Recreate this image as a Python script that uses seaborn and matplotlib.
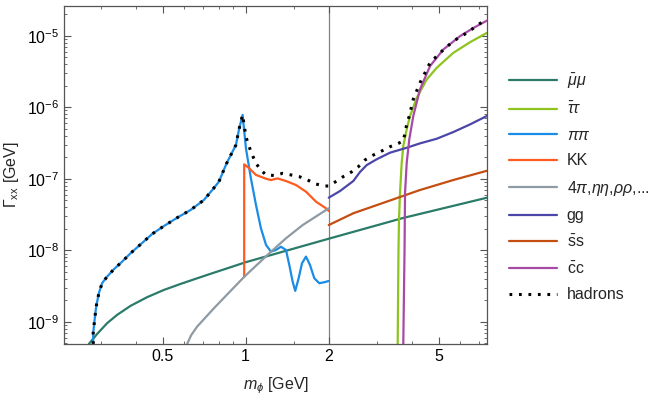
import numpy as np
import pandas as pd
import matplotlib
matplotlib.use("Agg")
import matplotlib.pyplot as plt
import matplotlib.ticker as mticker
import seaborn as sns

# values (m in GeV, Gamma in GeV)
mumu_m = [0.2706, 0.290, 0.315, 0.3425, 0.383, 0.440, 0.506, 0.581, 0.668, 0.768, 0.882, 1.0, 2.0, 3.71, 7.49]
mumu_g = [4.9e-10, 6.78e-10, 9.56e-10, 1.25e-9, 1.67e-9, 2.21e-9, 2.79e-9, 3.38e-9, 4.06e-9, 4.86e-9, 5.79e-9,
          6.8e-9, 1.45e-8, 2.82e-8, 5.43e-8]

tautau_m = [3.554, 3.578, 3.593, 3.624, 3.675, 3.724, 3.832, 3.938, 4.166, 4.527, 4.92, 5.65, 6.50, 7.47]
tautau_g = [4.9e-10, 1.01e-8, 2.65e-8, 6.37e-8, 1.67e-7, 2.86e-7, 4.90e-7, 7.52e-7, 1.35e-6, 2.44e-6, 3.55e-6,
            5.75e-6, 8.11e-6, 1.09e-5]

pipi_m = [0.2804, 0.2804, 0.2837, 0.2875, 0.294, 0.302, 0.315, 0.3333, 0.357, 0.383, 0.4165, 0.4587, 0.5058,
          0.565, 0.632, 0.706, 0.757, 0.800, 0.853, 0.922, 0.948, 0.975,
          1.0025, 1.045, 1.090, 1.136, 1.185, 1.235, 1.288, 1.342, 1.400, 1.439, 1.480, 1.512, 1.556, 1.600,
          1.654, 1.710, 1.773, 1.848, 1.927, 2.0]
pipi_g = [4.9e-10, 6.93e-10, 1.06e-9, 1.63e-9, 2.51e-9, 3.46e-9, 4.28e-9, 5.43e-9, 6.93e-9, 9.08e-9, 1.21e-8,
          1.69e-8, 2.18e-8, 2.85e-8, 3.66e-8, 5.04e-8, 6.95e-8, 9.08e-8, 1.64e-7, 2.96e-7, 5.06e-7, 7.8e-7,
          2.66e-7, 1.01e-7, 4.30e-8, 2.03e-8, 1.19e-8, 9.56e-9, 1.01e-8, 1.12e-8, 1.01e-8, 6.24e-9, 3.64e-9,
          2.70e-9, 4.06e-9, 6.58e-9, 8.15e-9, 6.24e-9, 4.06e-9, 3.46e-9, 3.57e-9, 3.72e-9]

kk_m = [0.988, 0.988, 1.030, 1.090, 1.185, 1.235, 1.306, 1.400, 1.521, 1.654, 1.798, 1.954, 2.0]
kk_g = [4.25e-9, 1.59e-7, 1.40e-7, 1.13e-7, 1.0e-7, 9.59e-8, 1.01e-7, 9.29e-8, 8.17e-8, 6.59e-8, 4.78e-8,
        3.86e-8, 3.54e-8]

fourpi_m = [0.614, 0.635, 0.668, 0.768, 0.882, 0.988, 1.218, 1.400, 1.609, 2.0]
fourpi_g = [4.9e-10, 6.5e-10, 8.6e-10, 1.55e-9, 2.7e-9, 4.25e-9, 9.08e-9, 1.47e-8, 2.25e-8, 3.86e-8]

gg_m = [2.0, 2.197, 2.455, 2.595, 2.744, 2.983, 3.333, 3.832, 4.28, 4.92, 5.65, 6.50, 7.47]
gg_g = [5.43e-8, 6.73e-8, 9.29e-8, 1.24e-7, 1.55e-7, 1.87e-7, 2.31e-7, 2.71e-7, 3.12e-7, 3.62e-7, 4.49e-7,
        5.75e-7, 7.52e-7]

ss_m = [2.0, 2.455, 3.243, 4.28, 5.65, 7.47]
ss_g = [2.25e-8, 3.29e-8, 4.78e-8, 6.95e-8, 9.59e-8, 1.29e-7]

cc_m = [3.724, 3.763, 3.779, 3.832, 3.915, 4.048, 4.28, 4.654, 5.20, 5.976, 6.68, 7.47]
cc_g = [4.9e-10, 1.01e-8, 6.37e-8, 1.67e-7, 3.55e-7, 7.52e-7, 1.77e-6, 3.75e-6, 6.41e-6, 9.84e-6, 1.28e-5, 1.62e-5]

had_m = pipi_m[:22] + [1.0025, 1.045, 1.090, 1.136, 1.185, 1.27, 1.362, 1.459, 1.564, 1.677, 1.798, 1.927, 2.0,
                       2.137, 2.257, 2.422, 2.559, 2.706, 2.900, 3.110, 3.333, 3.572, 3.724, 3.779, 3.832, 3.915,
                       4.048, 4.28, 4.654, 5.058, 5.65, 6.32, 7.26, 7.5]
had_g = pipi_g[:22] + [3.86e-7, 2.38e-7, 1.64e-7, 1.32e-7, 1.13e-7, 1.11e-7, 1.19e-7, 1.13e-7, 1.07e-7, 9.59e-8,
                       8.43e-8, 7.91e-8, 7.91e-8, 9.29e-8, 1.07e-7, 1.25e-7, 1.47e-7, 1.83e-7, 2.14e-7, 2.44e-7,
                       2.80e-7, 3.12e-7, 3.36e-7, 4.39e-7, 5.75e-7, 7.52e-7, 1.29e-6, 2.19e-6, 4.17e-6, 5.75e-6,
                       8.38e-6, 1.09e-5, 1.60e-5, 1.66e-5]

series = [
    (r"$\bar{\mu}\mu$", mumu_m, mumu_g, "#2b7b69"),
    (r"$\bar{\tau}\tau$", tautau_m, tautau_g, "#8fc31f"),
    (r"$\pi\pi$", pipi_m, pipi_g, "#1b8ce6"),
    ("KK", kk_m, kk_g, "#ff5a1f"),
    (r"4$\pi$,$\eta\eta$,$\rho\rho$,...", fourpi_m, fourpi_g, "#8e9aa4"),
    ("gg", gg_m, gg_g, "#4b47a8"),
    (r"$\bar{\mathrm{s}}$s", ss_m, ss_g, "#c44e12"),
    (r"$\bar{\mathrm{c}}$c", cc_m, cc_g, "#a64aa6"),
]

sns.set_theme(style="ticks")
plt.rcParams["font.family"] = ["Liberation Sans", "DejaVu Sans"]
plt.rcParams["mathtext.fontset"] = "custom"
plt.rcParams["mathtext.rm"] = "Liberation Sans"
plt.rcParams["mathtext.it"] = "Liberation Sans:italic"
plt.rcParams["mathtext.bf"] = "Liberation Sans:bold"

fig = plt.figure(figsize=(6.54, 3.99), dpi=100)
ax = fig.add_axes([0.098, 0.138, 0.647, 0.847])

for label, m, g, col in series:
    df = pd.DataFrame({"m": m, "g": g})
    sns.lineplot(data=df, x="m", y="g", ax=ax, color=col, lw=1.6, sort=False,
                 estimator=None, label=label)

dfh = pd.DataFrame({"m": had_m, "g": had_g})
sns.lineplot(data=dfh, x="m", y="g", ax=ax, color="black", lw=2.2, sort=False,
             estimator=None, label="hadrons", linestyle=(0, (0.9, 2.2)))

ax.axvline(2.0, color="#808080", lw=0.9, zorder=0)

ax.set_xscale("log")
ax.set_yscale("log")
ax.set_xlim(0.22, 7.5)
ax.set_ylim(4.9e-10, 2.6e-5)

ax.xaxis.set_major_locator(mticker.FixedLocator([0.5, 1, 2, 5]))
ax.xaxis.set_major_formatter(mticker.FixedFormatter(["0.5", "1", "2", "5"]))
ax.xaxis.set_minor_locator(mticker.FixedLocator([0.3, 0.4, 0.6, 0.7, 0.8, 0.9, 1.5, 3, 4, 6, 7]))
ax.xaxis.set_minor_formatter(mticker.NullFormatter())
ax.yaxis.set_major_locator(mticker.LogLocator(base=10, numticks=20))
ax.yaxis.set_minor_locator(mticker.LogLocator(base=10, subs=np.arange(2, 10), numticks=20))
ax.yaxis.set_minor_formatter(mticker.NullFormatter())

ax.tick_params(which="both", direction="in", top=True, right=True, colors="#555555",
               labelcolor="black", labelsize=11.5)
ax.tick_params(which="major", length=5, width=0.8)
ax.tick_params(which="minor", length=2.5, width=0.6)
for s in ax.spines.values():
    s.set_color("#555555")
    s.set_linewidth(0.9)

ax.set_xlabel(r"$m_\phi$ [GeV]", fontsize=11.5, labelpad=8)
ax.set_ylabel(r"$\Gamma_{\mathrm{xx}}$ [GeV]", fontsize=11.5, labelpad=4)

ax.legend(loc="upper left", bbox_to_anchor=(1.052, 0.806), frameon=False, fontsize=11.5,
          borderpad=0, borderaxespad=0, handlelength=3.0, handletextpad=0.6, labelspacing=0.66)

fig.savefig("out.png", dpi=100)
